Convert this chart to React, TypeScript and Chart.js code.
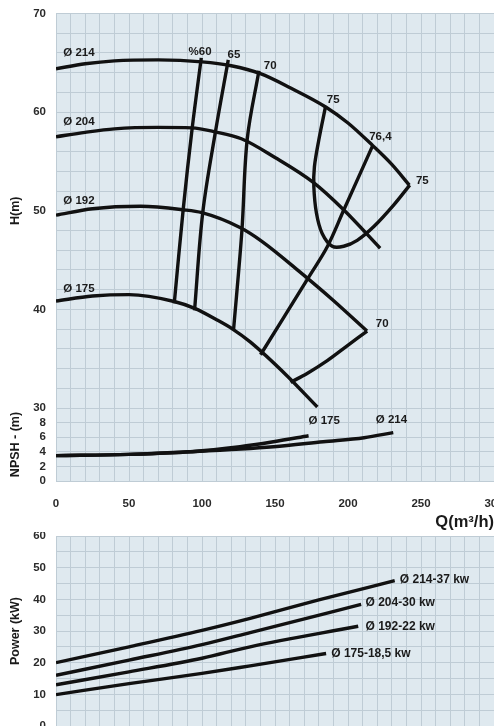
import React, { useEffect, useRef } from 'react';
import { Chart, registerables } from 'chart.js';
Chart.register(...registerables);

// ---------- DATA ----------
// Head curves (Q m3/h, H m)
const h214Q = [0, 20, 40, 70, 100, 120, 140, 160, 185, 200, 217, 230, 242];
const h214H = [64.4, 64.9, 65.2, 65.3, 65.1, 64.7, 63.9, 62.5, 60.5, 58.9, 56.6, 54.7, 52.6];
const h204Q = [0, 20, 40, 70, 93, 109, 127, 150, 176, 197, 222];
const h204H = [57.5, 57.95, 58.3, 58.45, 58.4, 58.0, 57.3, 55.4, 52.9, 50.1, 46.2];
const h192Q = [0, 25, 58, 87, 100, 126, 141, 167, 190, 213];
const h192H = [49.55, 50.2, 50.45, 50.1, 49.8, 48.3, 46.9, 43.8, 40.9, 37.8];
const h175Q = [0, 25, 50, 81, 95, 110, 121, 133, 158, 179];
const h175H = [40.85, 41.35, 41.5, 40.8, 40.1, 38.95, 38.0, 36.7, 33.3, 30.1];

// Efficiency iso-lines (Q, H)
const e60Q = [99.5, 93.3, 87.1, 81];
const e60H = [65.5, 58.4, 50.1, 40.6];
const e65Q = [118, 109.2, 100.5, 94.9];
const e65H = [65.3, 58.0, 49.8, 39.9];
const e70Q = [139, 131, 127.3, 121.6];
const e70H = [64.2, 57.3, 47.9, 37.9];
const e75Q = [184.6, 180, 177, 176.6, 178.4, 182.3, 189.2, 197.1, 206.3, 217.7, 231.4, 242.3];
const e75H = [60.55, 57.17, 54.46, 52.43, 49.74, 47.7, 46.4, 46.4, 47.0, 48.4, 50.6, 52.6];
const e764Q = [216.9, 197.1, 185.8, 173.2, 140.1];
const e764H = [56.6, 50.07, 46.35, 43.3, 35.4];
const e70bQ = [213.1, 199.4, 185.8, 172, 160.6];
const e70bH = [37.8, 36.3, 34.8, 33.5, 32.6];

// NPSH curves (Q, m)
const n175Q = [0, 50, 92, 126, 149, 173];
const n175V = [3.47, 3.65, 4.01, 4.7, 5.38, 6.2];
const n214Q = [0, 50, 92, 149, 183, 211, 231];
const n214V = [3.47, 3.65, 4.01, 4.7, 5.38, 5.93, 6.62];

// Power curves (Q, kW)
const p214Q = [0, 50, 100, 133, 180, 232];
const p214V = [20, 25, 30.2, 34, 39.8, 45.9];
const p204Q = [0, 50, 100, 133, 209];
const p204V = [16, 20.8, 25.7, 29.5, 38.4];
const p192Q = [0, 50, 100, 133, 207];
const p192V = [13, 17.1, 21.4, 25, 31.5];
const p175Q = [0, 50, 100, 133, 185];
const p175V = [9.9, 13.4, 16.6, 19, 22.9];

// Ticks
const qTickLabels = [0, 50, 100, 150, 200, 250, 300];
const hTickLabels = [30, 40, 50, 60, 70];
const npshTickLabels = [0, 2, 4, 6, 8];
const powerTickLabels = [0, 10, 20, 30, 40, 50, 60];

// Annotation texts (anchored in data coordinates: q, value)
const topLabelText = ['Ø 214', 'Ø 204', 'Ø 192', 'Ø 175', '%60', '65', '70', '75', '76,4', '75', '70'];
const topLabelQ = [5, 5, 5, 5, 90.8, 117.5, 142.3, 185.5, 214.5, 246.5, 219];
const topLabelH = [66.0, 59.0, 51.0, 42.1, 66.1, 65.8, 64.7, 61.25, 57.5, 53.0, 38.5];
const npshLabelText = ['Ø 175', 'Ø 214'];
const npshLabelQ = [173, 219];
const npshLabelV = [8.2, 8.35];
const powerLabelText = ['Ø 214-37 kw', 'Ø 204-30 kw', 'Ø 192-22 kw', 'Ø 175-18,5 kw'];
const powerLabelQ = [235.5, 212, 212, 188.5];
const powerLabelV = [46.1, 38.9, 31.3, 22.7];

// ---------- STYLE ----------
const FONT = "'Liberation Sans', Arial, Helvetica, sans-serif";
const LINE = '#111111';
const BG = '#dfe9ef';
const GRID = '#bfccd5';
const TICK = '#2a2a2a';

const pts = (xs: number[], ys: number[]) => xs.map((x, i) => ({ x, y: ys[i] }));

const ds = (xs: number[], ys: number[], axis: string, smooth = true) => ({
  data: pts(xs, ys),
  yAxisID: axis,
  borderColor: LINE,
  borderWidth: 3.4,
  pointRadius: 0,
  tension: 0.35,
  cubicInterpolationMode: smooth ? 'monotone' : 'default',
  fill: false,
});

const bgPlugin = {
  id: 'bg',
  beforeDraw(chart: any) {
    const { ctx, chartArea } = chart;
    ctx.save();
    ctx.fillStyle = BG;
    ctx.fillRect(chartArea.left, chartArea.top, chartArea.right - chartArea.left, chartArea.bottom - chartArea.top);
    ctx.restore();
  },
};

const makeLabelPlugin = (size: number, groups: { axis: string; text: string[]; q: number[]; v: number[] }[]) => ({
  id: 'labels',
  afterDatasetsDraw(chart: any) {
    const { ctx } = chart;
    ctx.save();
    ctx.fillStyle = '#1a1a1a';
    ctx.font = `bold ${size}px ${FONT}`;
    ctx.textAlign = 'left';
    ctx.textBaseline = 'middle';
    for (const g of groups) {
      const ys = chart.scales[g.axis];
      const xs = chart.scales.x;
      g.text.forEach((t, i) => {
        ctx.fillText(t, xs.getPixelForValue(g.q[i]), ys.getPixelForValue(g.v[i]));
      });
    }
    ctx.restore();
  },
});

const yFit = (s: any) => {
  s.width = 56;
  s.paddingTop = 0;
  s.paddingBottom = 0;
};

const tickFont = { family: FONT, size: 11.5, weight: 'bold' as const };
const titleFont = { family: FONT, size: 12.5, weight: 'bold' as const };

export default function App() {
  const topRef = useRef<HTMLCanvasElement>(null);
  const botRef = useRef<HTMLCanvasElement>(null);

  useEffect(() => {
    const top = new Chart(topRef.current!, {
      type: 'line',
      data: {
        datasets: [
          ds(h214Q, h214H, 'h'),
          ds(h204Q, h204H, 'h'),
          ds(h192Q, h192H, 'h'),
          ds(h175Q, h175H, 'h'),
          ds(e60Q, e60H, 'h', false),
          ds(e65Q, e65H, 'h', false),
          ds(e70Q, e70H, 'h', false),
          ds(e75Q, e75H, 'h', false),
          ds(e764Q, e764H, 'h', false),
          ds(e70bQ, e70bH, 'h', false),
          ds(n175Q, n175V, 'npsh'),
          ds(n214Q, n214V, 'npsh'),
        ] as any,
      },
      options: {
        responsive: false,
        maintainAspectRatio: false,
        animation: false,
        layout: { padding: { top: 13.5, left: 0, right: 0, bottom: 0 } },
        plugins: { legend: { display: false }, tooltip: { enabled: false } },
        scales: {
          x: {
            type: 'linear',
            position: 'bottom',
            min: 0,
            max: 300,
            ticks: {
              stepSize: 10,
              autoSkip: false,
              maxRotation: 0,
              padding: 16,
              color: TICK,
              font: tickFont,
              callback: (v: any) => (qTickLabels.includes(v) ? String(v) : ''),
            },
            grid: { color: GRID, drawTicks: false, lineWidth: 1 },
            border: { display: false },
            title: {
              display: true,
              text: 'Q(m³/h)',
              align: 'end',
              color: '#1a1a1a',
              font: { family: FONT, size: 16.5, weight: 'bold' },
              padding: 0,
            },
            afterFit: (s: any) => {
              s.height = 51;
              s.paddingLeft = 0;
              s.paddingRight = 0;
            },
          },
          npsh: {
            type: 'linear',
            position: 'left',
            stack: 'left',
            stackWeight: 73,
            weight: 0,
            min: 0,
            max: 10,
            ticks: {
              stepSize: 2,
              autoSkip: false,
              padding: 10,
              color: TICK,
              font: tickFont,
              callback: (v: any) => (npshTickLabels.includes(v) ? String(v) : ''),
            },
            grid: { color: GRID, drawTicks: false, lineWidth: 1 },
            border: { display: false },
            title: { display: true, text: 'NPSH - (m)', color: '#1a1a1a', font: titleFont, padding: { top: 8, bottom: 0 } },
            afterFit: yFit,
          },
          h: {
            type: 'linear',
            position: 'left',
            stack: 'left',
            stackWeight: 394.5,
            weight: 1,
            min: 30,
            max: 70,
            ticks: {
              stepSize: 2,
              autoSkip: false,
              padding: 10,
              color: TICK,
              font: tickFont,
              callback: (v: any) => (hTickLabels.includes(v) ? String(v) : ''),
            },
            grid: { color: GRID, drawTicks: false, lineWidth: 1 },
            border: { display: false },
            title: { display: true, text: 'H(m)', color: '#1a1a1a', font: titleFont, padding: { top: 8, bottom: 0 } },
            afterFit: yFit,
          },
        } as any,
      },
      plugins: [
        bgPlugin,
        makeLabelPlugin(11.5, [
          { axis: 'h', text: topLabelText, q: topLabelQ, v: topLabelH },
          { axis: 'npsh', text: npshLabelText, q: npshLabelQ, v: npshLabelV },
        ]),
      ],
    });

    const bot = new Chart(botRef.current!, {
      type: 'line',
      data: {
        datasets: [
          ds(p214Q, p214V, 'p'),
          ds(p204Q, p204V, 'p'),
          ds(p192Q, p192V, 'p'),
          ds(p175Q, p175V, 'p'),
        ] as any,
      },
      options: {
        responsive: false,
        maintainAspectRatio: false,
        animation: false,
        layout: { padding: { top: 4, left: 0, right: 0, bottom: 0 } },
        plugins: { legend: { display: false }, tooltip: { enabled: false } },
        scales: {
          x: {
            type: 'linear',
            position: 'bottom',
            min: 0,
            max: 300,
            ticks: { stepSize: 10, autoSkip: false, display: false },
            grid: { color: GRID, drawTicks: false, lineWidth: 1 },
            border: { display: false },
            afterFit: (s: any) => {
              s.height = 16;
              s.paddingLeft = 0;
              s.paddingRight = 0;
            },
          },
          p: {
            type: 'linear',
            position: 'left',
            min: 0,
            max: 60,
            ticks: {
              stepSize: 5,
              autoSkip: false,
              padding: 10,
              color: TICK,
              font: tickFont,
              callback: (v: any) => (powerTickLabels.includes(v) ? String(v) : ''),
            },
            grid: { color: GRID, drawTicks: false, lineWidth: 1 },
            border: { display: false },
            title: { display: true, text: 'Power (kW)', color: '#1a1a1a', font: titleFont, padding: { top: 8, bottom: 0 } },
            afterFit: yFit,
          },
        } as any,
      },
      plugins: [bgPlugin, makeLabelPlugin(12, [{ axis: 'p', text: powerLabelText, q: powerLabelQ, v: powerLabelV }])],
    });

    return () => {
      top.destroy();
      bot.destroy();
    };
  }, []);

  return (
    <div style={{ position: 'fixed', left: 0, top: 0, width: 494, height: 726, overflow: 'hidden', background: '#fff' }}>
      <canvas ref={topRef} width={494} height={532} style={{ position: 'absolute', left: 0, top: 0, display: 'block' }} />
      <canvas ref={botRef} width={494} height={210} style={{ position: 'absolute', left: 0, top: 532, display: 'block' }} />
    </div>
  );
}
